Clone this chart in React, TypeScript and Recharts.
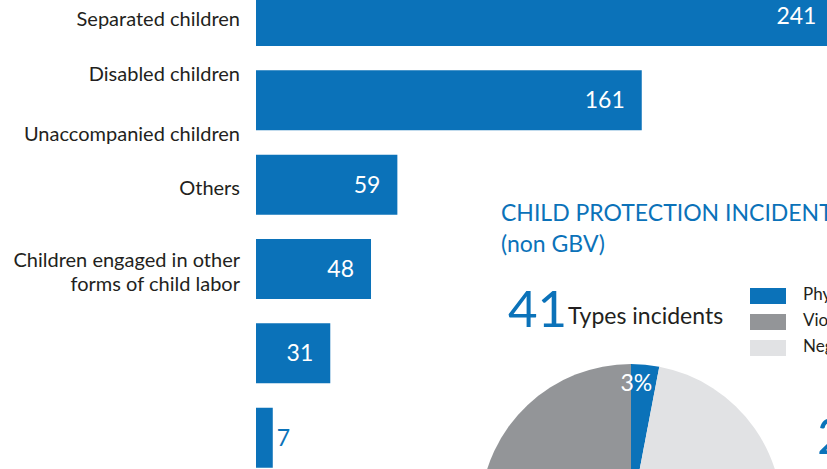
import React from "react";
import { BarChart, Bar, XAxis, YAxis, LabelList, PieChart, Pie, Cell } from "recharts";

// needs bars, top to bottom
const categories = [
  "Separated children",
  "Disabled children\n\nUnaccompanied children",
  "Others",
  "Children engaged in other\nforms of child labor",
  "",
  ""
];
const counts = [241, 161, 59, 48, 31, 7];

// incidents pie, clockwise from 12 o'clock
const incidentTypes = ["Physical violence", "Neglect", "Violence"];
const incidentShares = [3, 49, 48];
const legendOrder = ["Physical violence", "Violence", "Neglect"];
const totalTypes = 41;

const BLUE = "#0b72b9";
const GREY = "#939598";
const LIGHT = "#e1e2e4";
const TEXT = "#231f20";
const FONT = "Lato, 'Open Sans', sans-serif";

const sliceColors: Record<string, string> = {
  "Physical violence": BLUE,
  Violence: GREY,
  Neglect: LIGHT
};

const barData = categories.map((name, i) => ({ name, count: counts[i] }));
const pieData = incidentTypes.map((name, i) => ({ name, value: incidentShares[i] }));

function NeedTick(props: any) {
  const { y, payload } = props;
  const lines: string[] = String(payload.value).split("\n");
  if (!lines[0]) return null;
  const offs: number[] = [];
  let acc = 0;
  lines.forEach((l, i) => {
    if (i > 0) acc += lines[i - 1] === "" ? 36 : 24;
    offs.push(acc);
  });
  const total = acc;
  return (
    <g>
      {lines.map((l, i) =>
        l ? (
          <text
            key={i}
            x={240}
            y={y - total / 2 + offs[i] + 10}
            textAnchor="end"
            fill={TEXT}
            fontSize={20}
            fontFamily={FONT}
          >
            {l}
          </text>
        ) : null
      )}
    </g>
  );
}

function CountLabel(props: any) {
  const { x, y, width, height, value } = props;
  const inside = value >= 20;
  return (
    <text
      x={inside ? x + width - 17 : x + width + 4}
      y={y + height / 2 + 8}
      textAnchor={inside ? "end" : "start"}
      fill={inside ? "#fff" : BLUE}
      fontSize={23}
      fontFamily={FONT}
    >
      {value}
    </text>
  );
}

function SliceLabel(props: any) {
  const { cx, cy, midAngle, outerRadius, percent } = props;
  const rad = (Math.PI / 180) * midAngle;
  const r = outerRadius - 20;
  return (
    <text
      x={cx + r * Math.cos(rad) - 7}
      y={cy - r * Math.sin(rad) + 6}
      textAnchor="middle"
      fill="#fff"
      fontSize={23}
      fontFamily={FONT}
    >
      {Math.round(percent * 100)}%
    </text>
  );
}

export default function App() {
  return (
    <div
      style={{
        position: "absolute",
        left: 0,
        top: 0,
        width: 827,
        height: 469,
        overflow: "hidden",
        background: "#fff",
        fontFamily: FONT
      }}
    >
      <div style={{ position: "absolute", left: 0, top: -26 }}>
        <BarChart
          layout="vertical"
          width={855}
          height={506}
          data={barData}
          margin={{ top: 0, right: 0, bottom: 0, left: 0 }}
          barSize={60}
        >
          <XAxis type="number" hide domain={[0, 250]} />
          <YAxis
            type="category"
            dataKey="name"
            width={256}
            axisLine={false}
            tickLine={false}
            interval={0}
            tick={<NeedTick />}
          />
          <Bar dataKey="count" fill={BLUE} isAnimationActive={false}>
            <LabelList dataKey="count" content={<CountLabel />} />
          </Bar>
        </BarChart>
      </div>

      <div style={{ position: "absolute", left: 426, top: 310 }}>
        <PieChart width={400} height={400}>
          <Pie
            data={pieData}
            dataKey="value"
            cx={200}
            cy={200}
            outerRadius={151}
            startAngle={90}
            endAngle={-270}
            stroke="none"
            labelLine={false}
            label={<SliceLabel />}
            isAnimationActive={false}
          >
            {pieData.map((d) => (
              <Cell key={d.name} fill={sliceColors[d.name]} />
            ))}
          </Pie>
        </PieChart>
      </div>

      <svg
        width={827}
        height={469}
        style={{ position: "absolute", left: 0, top: 0, pointerEvents: "none" }}
      >
        <text x={501} y={221} fill={BLUE} fontSize={23} fontFamily={FONT}>
          CHILD PROTECTION INCIDENTS
        </text>
        <text x={501} y={252} fill={BLUE} fontSize={23} fontFamily={FONT}>
          (non GBV)
        </text>
        <text x={508} y={327} fill={BLUE} fontSize={51} fontFamily={FONT}>
          {totalTypes}
        </text>
        <text x={568} y={324} fill={TEXT} fontSize={23} fontFamily={FONT}>
          Types incidents
        </text>
        {legendOrder.map((name, i) => (
          <g key={name}>
            <rect x={750} y={288 + i * 26} width={36} height={16} fill={sliceColors[name]} />
            <text x={803} y={300 + i * 26} fill={TEXT} fontSize={17} fontFamily={FONT}>
              {name}
            </text>
          </g>
        ))}
        <text x={817} y={454} fill={BLUE} fontSize={51} fontFamily={FONT}>
          2
        </text>
      </svg>
    </div>
  );
}
